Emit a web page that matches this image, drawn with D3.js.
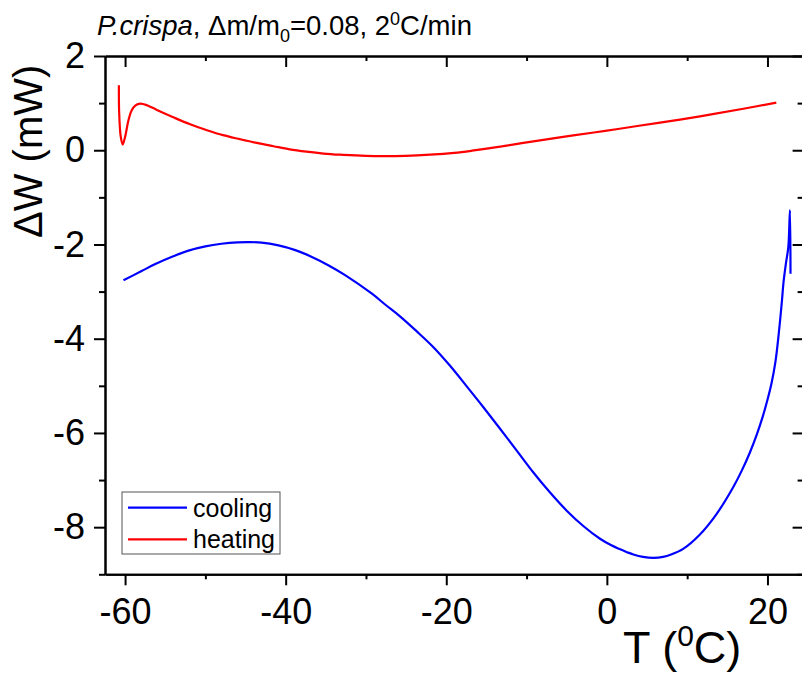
<!DOCTYPE html>
<html>
<head>
<meta charset="utf-8">
<script src="https://cdn.jsdelivr.net/npm/d3@7"></script>
<style>
  html, body { margin: 0; padding: 0; background: #fff; }
  svg { display: block; }
  text { font-family: "Liberation Sans", Arial, sans-serif; fill: #000; }
</style>
</head>
<body>
<svg id="chart" width="802" height="673"></svg>
<script>
// Heating run: temperature (°C) and differential power (mW)
const heatT = [-60.77, -60.74, -60.55, -60.3, -60.0, -59.6, -59.2, -58.7, -58.1, -57.2, -56.1, -54.0, -51.9, -49.8, -47.8, -45.7, -43.6, -41.5, -39.5, -37.4, -35.3, -33.2, -31.2, -28.5, -25.1, -22.0, -19.0, -16.8, -13.5, -10.6, -7.5, -4.4, -0.2, 4.0, 9.1, 13.0, 17.0, 21.1];
const heatW = [1.38, 0.82, 0.30, 0.12, 0.28, 0.62, 0.84, 0.95, 0.99, 0.95, 0.86, 0.70, 0.55, 0.425, 0.32, 0.235, 0.155, 0.085, 0.02, -0.03, -0.07, -0.095, -0.11, -0.125, -0.12, -0.095, -0.055, -0.01, 0.07, 0.15, 0.23, 0.31, 0.41, 0.52, 0.65, 0.76, 0.88, 1.01];

// Cooling run
const coolT = [-60.2, -58.0, -56.3, -54.0, -52.1, -50.0, -48.0, -46.0, -44.6, -43.0, -40.9, -38.8, -36.8, -34.7, -32.6, -29.3, -27.5, -25.8, -23.7, -21.6, -19.5, -17.5, -15.4, -13.3, -11.2, -9.2, -7.1, -5.0, -2.9, -0.9, 0.5, 1.5, 2.5, 3.3, 4.5, 5.8, 7.0, 8.0, 9.5, 11.5, 13.7, 15.8, 16.8, 17.8, 18.7, 19.4, 19.9, 20.5, 21.0, 21.4, 21.8, 22.0, 22.3, 22.6, 22.8, 22.87];
const coolW = [-2.76, -2.57, -2.42, -2.25, -2.13, -2.04, -1.985, -1.955, -1.95, -1.96, -2.02, -2.12, -2.26, -2.44, -2.65, -3.04, -3.29, -3.52, -3.84, -4.18, -4.58, -5.0, -5.45, -5.91, -6.38, -6.83, -7.26, -7.65, -7.98, -8.24, -8.38, -8.46, -8.53, -8.58, -8.63, -8.65, -8.63, -8.58, -8.46, -8.17, -7.71, -7.13, -6.80, -6.42, -6.02, -5.66, -5.36, -4.95, -4.48, -3.9, -3.2, -2.8, -2.4, -2.05, -1.27, -2.62];

const seriesNames = ["cooling", "heating"];
const seriesColors = ["#0000ff", "#ff0000"];

const xMajor = [-60, -40, -20, 0, 20];
const xMinor = [-50, -30, -10, 10];
const yMajor = [-8, -6, -4, -2, 0, 2];
const yMinor = [-9, -7, -5, -3, -1, 1];

const svg = d3.select("#chart");
const plotL = 105, plotR = 803.6, plotT = 56, plotB = 574.3;

const x = d3.scaleLinear().domain([-62.5, 24.5]).range([plotL, plotR]);
const y = d3.scaleLinear().domain([-9, 2]).range([plotB, plotT]);

const fmt = d => String(d);
const tickFont = 36;

function styleAxis(g) {
  g.selectAll("path.domain").attr("stroke", "#000").attr("stroke-width", 2);
  g.selectAll(".tick line").attr("stroke", "#000").attr("stroke-width", 2);
  g.selectAll(".tick text").attr("font-size", tickFont).attr("font-family", "Liberation Sans, Arial, sans-serif").attr("fill", "#000");
}

// bottom axis (outward ticks, labelled)
svg.append("g").attr("transform", `translate(0,${plotB})`)
  .call(d3.axisBottom(x).tickValues(xMajor).tickFormat(fmt).tickSizeInner(11).tickSizeOuter(0).tickPadding(13))
  .call(styleAxis);
svg.append("g").attr("transform", `translate(0,${plotB})`)
  .call(d3.axisBottom(x).tickValues(xMinor).tickFormat("").tickSizeInner(5).tickSizeOuter(0))
  .call(styleAxis);

// top axis (inward ticks)
svg.append("g").attr("transform", `translate(0,${plotT})`)
  .call(d3.axisTop(x).tickValues(xMajor).tickFormat("").tickSizeInner(-11).tickSizeOuter(0))
  .call(styleAxis);
svg.append("g").attr("transform", `translate(0,${plotT})`)
  .call(d3.axisTop(x).tickValues(xMinor).tickFormat("").tickSizeInner(-5).tickSizeOuter(0))
  .call(styleAxis);

// left axis (outward ticks, labelled)
svg.append("g").attr("transform", `translate(${plotL},0)`)
  .call(d3.axisLeft(y).tickValues(yMajor).tickFormat(fmt).tickSizeInner(11).tickSizeOuter(0).tickPadding(9))
  .call(styleAxis);
svg.append("g").attr("transform", `translate(${plotL},0)`)
  .call(d3.axisLeft(y).tickValues(yMinor).tickFormat("").tickSizeInner(6).tickSizeOuter(0))
  .call(styleAxis);

// right axis (inward ticks)
svg.append("g").attr("transform", `translate(${plotR},0)`)
  .call(d3.axisRight(y).tickValues(yMajor).tickFormat("").tickSizeInner(-11).tickSizeOuter(0))
  .call(styleAxis);
svg.append("g").attr("transform", `translate(${plotR},0)`)
  .call(d3.axisRight(y).tickValues(yMinor).tickFormat("").tickSizeInner(-6).tickSizeOuter(0))
  .call(styleAxis);

// curves
const line = d3.line().x(d => x(d[0])).y(d => y(d[1])).curve(d3.curveCatmullRom.alpha(0.5));
const cool = coolT.map((t, i) => [t, coolW[i]]);
const heat = heatT.map((t, i) => [t, heatW[i]]);

svg.append("path").datum(cool).attr("d", line)
  .attr("fill", "none").attr("stroke", seriesColors[0]).attr("stroke-width", 2.2).attr("stroke-linejoin", "round");
svg.append("path").datum(heat).attr("d", line)
  .attr("fill", "none").attr("stroke", seriesColors[1]).attr("stroke-width", 2.2).attr("stroke-linejoin", "round");

// legend
const lg = svg.append("g");
lg.append("rect").attr("x", 122).attr("y", 492).attr("width", 158).attr("height", 62)
  .attr("fill", "#fff").attr("stroke", "#555").attr("stroke-width", 1);
seriesNames.forEach((name, i) => {
  const ly = 507.7 + i * 31.6;
  lg.append("line").attr("x1", 128).attr("x2", 187).attr("y1", ly).attr("y2", ly)
    .attr("stroke", seriesColors[i]).attr("stroke-width", 2.2);
  lg.append("text").attr("x", 193).attr("y", ly + 9).attr("font-size", 25).text(name);
});

// title
const title = svg.append("text").attr("x", 97).attr("y", 35).attr("font-size", 27.5);
title.append("tspan").attr("font-style", "italic").text("P.crispa");
title.append("tspan").text(", \u0394m/m");
title.append("tspan").attr("font-size", 18).attr("dy", 7).text("0");
title.append("tspan").attr("dy", -7).text("=0.08, 2");
title.append("tspan").attr("font-size", 18).attr("dy", -10).text("0");
title.append("tspan").attr("dy", 10).text("C/min");

// x label
const xl = svg.append("text").attr("x", 623).attr("y", 663).attr("font-size", 45);
xl.append("tspan").text("T (");
xl.append("tspan").attr("font-size", 30).attr("dy", -17).text("0");
xl.append("tspan").attr("dy", 17).text("C)");

// y label
svg.append("text").attr("transform", "translate(42,238) rotate(-90)")
  .attr("font-size", 40).text("\u0394W (mW)");
</script>
</body>
</html>
